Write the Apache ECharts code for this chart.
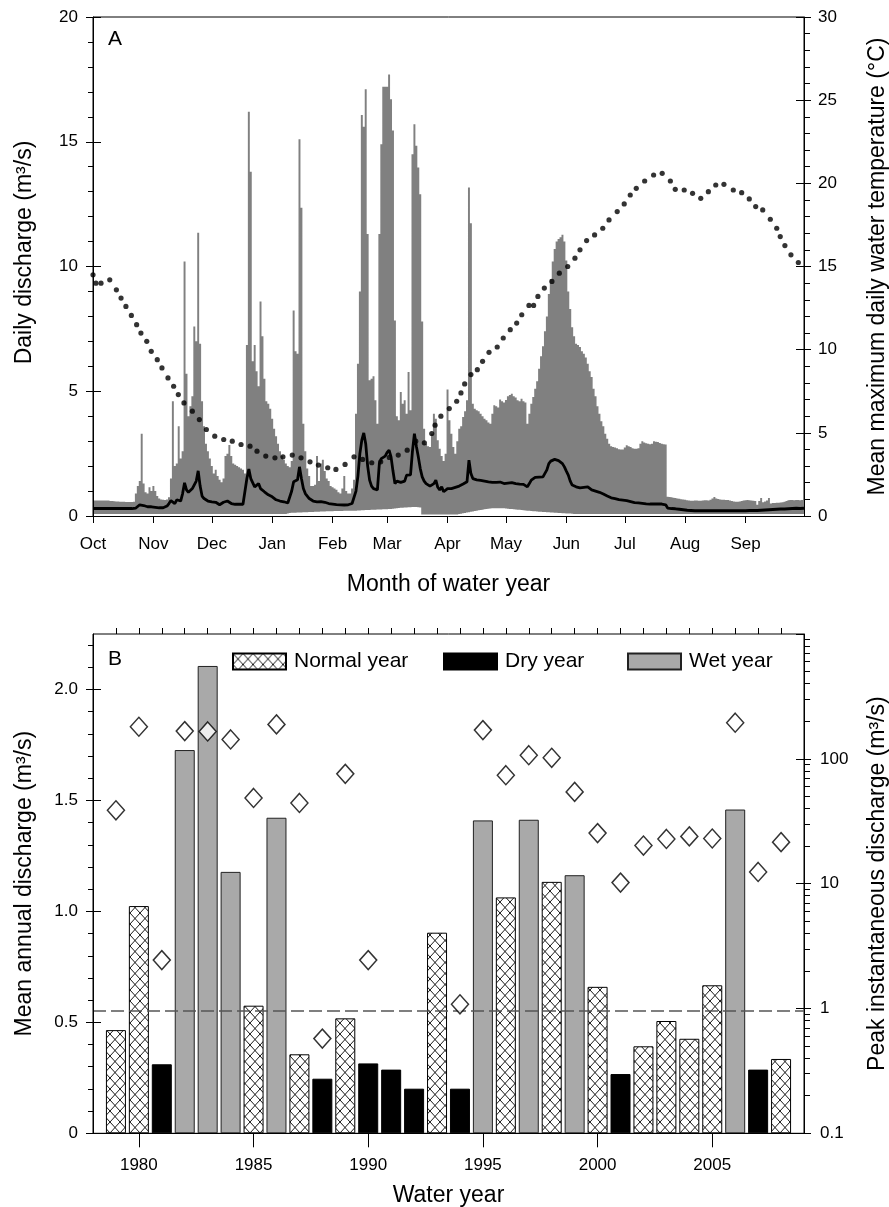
<!DOCTYPE html>
<html><head><meta charset="utf-8">
<script src="https://cdn.jsdelivr.net/npm/echarts@6/dist/echarts.min.js"></script>
<style>html,body{margin:0;padding:0;background:#fff}#c{width:889px;height:1207px}</style>
</head><body><div id="c"></div>
<script>
// ---------- Panel A data ----------
const monthNames = ['Oct','Nov','Dec','Jan','Feb','Mar','Apr','May','Jun','Jul','Aug','Sep'];
const monthStartDays = [0,31,61,92,123,151,182,212,243,273,304,335];
// daily maximum discharge (m3/s), day 0 = 1 Oct
const maxQ = [
0.62,0.62,0.62,0.62,0.62,0.62,0.62,0.62,0.62,0.6,
0.6,0.59,0.58,0.58,0.57,0.57,0.57,0.56,0.56,0.56,
0.56,0.57,0.9,1.2,1.4,3.3,1.3,0.95,0.9,1.15,
1.0,1.2,1.0,0.8,0.7,0.66,0.65,0.64,0.66,0.75,
1.5,4.6,2.0,2.1,3.6,2.3,2.6,10.2,5.7,4.0,
4.4,4.8,7.6,7.0,11.35,6.9,4.6,3.6,2.9,2.6,
2.3,2.0,1.7,1.85,1.6,1.45,1.35,1.5,2.4,2.5,
2.85,2.4,2.1,2.05,2.0,1.95,1.9,1.85,1.7,6.85,
16.2,13.8,6.2,6.85,5.8,5.2,8.6,7.2,5.5,4.6,
4.5,4.3,3.9,3.5,3.2,2.9,2.6,2.4,2.25,2.1,
2.0,1.95,2.2,8.24,6.6,6.5,15.1,12.35,3.7,2.6,
1.9,1.6,1.2,1.2,1.25,2.4,1.4,2.1,2.25,1.8,
1.5,1.4,1.2,1.15,1.1,1.05,0.95,0.9,1.1,1.6,
1.0,0.9,0.9,1.1,1.45,4.1,6.1,9.0,16.07,15.6,
17.1,11.3,5.44,5.5,5.6,4.64,3.7,11.3,14.9,17.2,
17.2,17.2,17.7,16.7,15.45,7.84,4.0,3.84,4.97,4.5,
4.64,4.1,5.77,4.24,14.5,15.7,14.84,13.97,12.9,7.8,
3.5,2.9,2.8,2.77,3.3,4.1,3.9,3.04,2.7,2.4,
2.2,2.5,5.07,3.84,3.3,2.77,2.5,3.0,3.5,3.6,
3.97,4.2,4.64,13.17,11.73,4.5,4.3,4.24,4.2,4.1,
4.0,3.9,3.84,3.75,3.7,4.1,4.44,4.4,4.35,4.67,
4.6,4.55,4.65,4.8,4.85,4.9,4.8,4.75,4.64,4.6,
4.7,4.6,4.55,3.7,4.1,4.5,4.77,5.1,5.4,5.9,
6.4,6.8,7.4,8.0,8.9,9.5,10.2,10.7,11.0,11.1,
11.17,11.27,11.0,10.24,9.0,8.3,7.57,7.2,6.9,6.85,
6.77,6.6,6.5,6.35,6.1,5.8,5.57,5.1,4.8,4.4,
4.1,3.8,3.6,3.3,3.1,2.9,2.8,2.77,2.75,2.72,
2.68,2.67,2.67,2.75,2.84,2.8,2.77,2.72,2.7,2.7,
2.72,2.9,3.0,2.95,2.92,2.9,2.88,2.9,3.0,2.98,
2.97,2.93,2.9,2.88,2.87,0.77,0.76,0.75,0.73,0.72,
0.7,0.69,0.67,0.66,0.65,0.63,0.62,0.61,0.61,0.62,
0.62,0.61,0.61,0.62,0.63,0.63,0.62,0.65,0.7,0.76,
0.7,0.68,0.66,0.65,0.65,0.64,0.64,0.62,0.6,0.58,
0.57,0.57,0.58,0.6,0.62,0.63,0.64,0.63,0.62,0.61,
0.6,0.45,0.6,0.72,0.55,0.58,0.62,0.72,0.5,0.52,
0.52,0.53,0.53,0.54,0.55,0.57,0.6,0.63,0.64,0.64,
0.63,0.64,0.64,0.63,0.64,0.64];
// daily minimum discharge (m3/s)
const minQ = [
0.08,0.08,0.08,0.08,0.08,0.08,0.08,0.08,0.08,0.08,
0.08,0.08,0.08,0.08,0.08,0.08,0.08,0.08,0.08,0.08,
0.08,0.08,0.08,0.08,0.08,0.08,0.08,0.08,0.08,0.08,
0.08,0.08,0.08,0.08,0.08,0.08,0.08,0.08,0.08,0.08,
0.08,0.08,0.08,0.08,0.08,0.08,0.08,0.08,0.08,0.08,
0.08,0.08,0.08,0.08,0.08,0.08,0.08,0.08,0.08,0.08,
0.08,0.08,0.08,0.08,0.08,0.08,0.08,0.08,0.08,0.08,
0.08,0.08,0.08,0.08,0.08,0.08,0.08,0.08,0.08,0.08,
0.08,0.08,0.08,0.08,0.08,0.08,0.08,0.08,0.08,0.08,
0.08,0.08,0.08,0.08,0.08,0.08,0.08,0.08,0.08,0.08,
0.1,0.12,0.13,0.13,0.13,0.14,0.14,0.14,0.15,0.15,
0.15,0.16,0.16,0.16,0.17,0.17,0.17,0.18,0.18,0.18,
0.19,0.19,0.19,0.19,0.2,0.2,0.2,0.2,0.2,0.21,
0.21,0.21,0.21,0.21,0.21,0.21,0.22,0.22,0.23,0.23,
0.24,0.24,0.24,0.25,0.25,0.25,0.26,0.26,0.26,0.27,
0.27,0.27,0.28,0.28,0.29,0.3,0.31,0.32,0.33,0.33,
0.34,0.34,0.35,0.35,0.36,0.36,0.36,0.35,0.34,0.06,
0.06,0.06,0.06,0.06,0.06,0.06,0.06,0.06,0.06,0.06,
0.06,0.06,0.06,0.06,0.06,0.06,0.06,0.06,0.08,0.09,
0.11,0.12,0.14,0.15,0.17,0.18,0.2,0.21,0.23,0.24,
0.25,0.27,0.28,0.29,0.3,0.31,0.31,0.31,0.31,0.31,
0.31,0.31,0.3,0.29,0.28,0.28,0.27,0.26,0.25,0.25,
0.24,0.23,0.22,0.21,0.21,0.2,0.19,0.19,0.18,0.17,
0.17,0.16,0.16,0.15,0.15,0.14,0.14,0.13,0.13,0.12,
0.12,0.11,0.11,0.1,0.1,0.1,0.09,0.08,0.08,0.08,
0.08,0.08,0.08,0.08,0.08,0.08,0.08,0.08,0.08,0.08,
0.08,0.08,0.08,0.08,0.08,0.08,0.08,0.08,0.08,0.08,
0.08,0.08,0.08,0.08,0.08,0.08,0.08,0.08,0.08,0.08,
0.08,0.08,0.08,0.08,0.08,0.08,0.08,0.08,0.08,0.08,
0.08,0.08,0.08,0.08,0.08,0.08,0.08,0.08,0.08,0.08,
0.08,0.08,0.08,0.08,0.08,0.08,0.08,0.08,0.08,0.08,
0.08,0.08,0.08,0.08,0.08,0.08,0.08,0.08,0.08,0.08,
0.08,0.08,0.08,0.08,0.08,0.08,0.08,0.08,0.08,0.08,
0.08,0.08,0.08,0.08,0.08,0.08,0.08,0.08,0.08,0.08,
0.08,0.08,0.08,0.08,0.08,0.08,0.08,0.08,0.08,0.08,
0.08,0.08,0.08,0.08,0.08,0.08,0.08,0.08,0.08,0.08,
0.08,0.08,0.08,0.08,0.08,0.08];
// daily median discharge (m3/s)
const medQ = [
0.3,0.3,0.3,0.3,0.3,0.3,0.3,0.3,0.3,0.3,
0.3,0.3,0.3,0.3,0.3,0.3,0.3,0.3,0.3,0.3,
0.3,0.3,0.32,0.38,0.45,0.53,0.42,0.37,0.37,0.38,
0.37,0.36,0.35,0.34,0.33,0.33,0.33,0.35,0.4,0.5,
0.62,0.6,0.5,0.65,0.62,0.6,0.9,1.33,1.05,0.95,
0.9,1.1,1.15,1.4,1.81,1.2,0.8,0.7,0.64,0.6,
0.58,0.57,0.57,0.55,0.5,0.45,0.47,0.55,0.58,0.6,
0.52,0.5,0.48,0.47,0.47,0.47,0.47,0.47,0.5,1.5,
1.88,1.5,1.44,1.17,1.2,1.3,1.1,1.04,0.97,0.9,
0.85,0.8,0.77,0.7,0.65,0.62,0.6,0.58,0.57,0.55,
0.52,0.5,1.0,1.37,1.3,1.45,1.97,1.5,1.1,0.9,
0.8,0.7,0.64,0.6,0.57,0.57,0.6,0.58,0.57,0.55,
0.52,0.5,0.5,0.48,0.47,0.46,0.45,0.45,0.44,0.44,
0.44,0.45,0.47,0.5,0.5,1.0,1.6,2.5,3.04,3.33,
2.9,2.0,1.44,1.2,1.1,1.04,1.05,2.1,2.3,2.37,
2.4,2.55,2.64,2.37,1.8,1.3,1.4,1.45,1.35,1.3,
1.4,1.64,1.6,1.65,2.6,3.3,2.8,2.37,1.9,1.57,
1.4,1.3,1.24,1.2,1.17,1.3,1.44,1.15,1.04,1.17,
0.97,1.05,1.1,1.08,1.1,1.12,1.15,1.18,1.2,1.24,
1.28,1.32,1.37,2.24,1.7,1.5,1.47,1.45,1.44,1.43,
1.42,1.4,1.38,1.37,1.36,1.35,1.3,1.35,1.32,1.36,
1.33,1.3,1.35,1.32,1.3,1.34,1.31,1.3,1.33,1.28,
1.3,1.27,1.22,1.17,1.3,1.44,1.5,1.55,1.55,1.56,
1.57,1.57,1.6,1.85,2.1,2.2,2.25,2.27,2.26,2.22,
2.18,2.1,1.97,1.8,1.64,1.4,1.24,1.2,1.17,1.15,
1.13,1.12,1.15,1.2,1.17,1.1,1.05,1.04,1.0,0.97,
0.95,0.92,0.88,0.84,0.8,0.76,0.73,0.7,0.7,0.68,
0.66,0.65,0.64,0.63,0.62,0.6,0.58,0.56,0.54,0.53,
0.53,0.52,0.51,0.5,0.49,0.48,0.48,0.48,0.48,0.48,
0.48,0.48,0.48,0.47,0.45,0.32,0.31,0.3,0.3,0.29,
0.28,0.27,0.26,0.25,0.24,0.23,0.22,0.22,0.21,0.21,
0.21,0.21,0.21,0.21,0.21,0.21,0.21,0.21,0.21,0.21,
0.21,0.21,0.21,0.21,0.21,0.21,0.21,0.21,0.21,0.21,
0.21,0.21,0.21,0.21,0.21,0.21,0.21,0.22,0.22,0.22,
0.22,0.22,0.22,0.23,0.23,0.24,0.24,0.25,0.25,0.26,
0.26,0.27,0.27,0.28,0.28,0.28,0.29,0.29,0.3,0.3,
0.3,0.31,0.31,0.3,0.31,0.31];
// mean maximum daily water temperature (deg C)
const tempDay = [0,1.5,4.1,8.6,12,14.4,16.9,19.7,22.4,24.6,27.6,29.9,33,35.4,38.5,41.4,43.8,46.7,51,54.6,58.2,62.5,67.1,71.5,76,80.6,84.2,88.7,93.4,97.5,102.3,106.8,111.4,115.7,120.5,124.7,129.4,134,138.4,143.1,147.7,152.1,156.7,161.3,165.7,170.1,173.9,175.6,178.6,182.9,186.7,188.9,190.8,194,197.3,200,203.3,207.5,210.6,214.2,217.5,220.1,223.8,226.2,228.4,231.7,235.6,239.4,243.7,247.4,250,253.4,257.5,261.7,264.9,269.1,272.7,275.8,278.9,283.2,287.8,292.2,296.4,298.9,303.5,307.8,312,315.9,319.7,323.9,328.7,333,336.9,340.2,343.8,347.7,351,352.8,355.2,358.3,362.1];
const tempC = [14.5,14.0,14.0,14.2,13.6,13.1,12.6,12.06,11.5,11.0,10.5,9.9,9.4,8.9,8.3,7.8,7.3,6.8,6.3,5.8,5.2,4.8,4.6,4.5,4.3,4.2,3.9,3.6,3.5,3.56,3.66,3.5,3.26,3.06,2.9,2.8,3.1,3.56,3.4,3.2,3.26,3.52,3.66,3.96,4.5,4.4,4.96,5.46,6.0,6.46,6.9,7.4,7.94,8.5,8.8,9.3,9.84,10.16,10.7,11.2,11.6,12.1,12.66,12.66,13.2,13.7,14.1,14.6,15.0,15.5,16.0,16.56,16.9,17.3,17.8,18.3,18.76,19.3,19.7,20.14,20.5,20.6,20.14,19.64,19.6,19.4,19.1,19.5,19.9,19.94,19.6,19.44,19.06,18.6,18.4,17.84,17.3,16.8,16.26,15.7,15.24];

// ---------- Panel B data ----------
const years = [1979,1980,1981,1982,1983,1984,1985,1986,1987,1988,1989,1990,1991,1992,1993,1994,1995,1996,1997,1998,1999,2000,2001,2002,2003,2004,2005,2006,2007,2008];
const yearType = ['N','N','D','W','W','W','N','W','N','D','N','D','D','D','N','D','W','N','W','N','W','N','D','N','N','N','N','W','D','N'];
const annualQ = [0.465,1.024,0.311,1.727,2.106,1.178,0.575,1.422,0.356,0.246,0.518,0.315,0.287,0.201,0.904,0.201,1.41,1.063,1.413,1.133,1.163,0.66,0.267,0.392,0.506,0.426,0.667,1.459,0.287,0.335];
const peakYears = [1979,1980,1981,1982,1983,1984,1985,1986,1987,1988,1989,1990,1994,1995,1996,1997,1998,1999,2000,2001,2002,2003,2004,2005,2006,2007,2008];
const peakQ = [38.7,180.7,2.44,166.7,165.6,142.9,48.6,188.6,44.3,0.574,75.8,2.44,1.08,169.8,73.9,106.9,101.9,54.3,25.4,10.2,20.2,22.8,23.9,23.0,194.6,12.4,21.5];
const meanAnnualQ = 0.554;
const typeNames = {N:'Normal year', D:'Dry year', W:'Wet year'};
const yearTickLabels = [1980,1985,1990,1995,2000,2005];
const leftBTicks = [0,0.5,1.0,1.5,2.0];
const leftBMinorTicks = [0.1,0.2,0.3,0.4,0.6,0.7,0.8,0.9,1.1,1.2,1.3,1.4,1.6,1.7,1.8,1.9,2.1,2.2];
const logMinorTicks = [0.2,0.3,0.4,0.5,0.6,0.7,0.8,0.9,2,3,4,5,6,7,8,9,20,30,40,50,60,70,80,90,200,300,400,500,600,700,800,900];

// ---------- build ----------
const FONT = 'Liberation Sans, Arial, Helvetica, sans-serif';
const pc = document.createElement('canvas'); pc.width = 10; pc.height = 11;
const g = pc.getContext('2d');
g.fillStyle = '#fff'; g.fillRect(0, 0, 10, 11);
g.strokeStyle = '#000'; g.lineWidth = 0.9;
g.beginPath(); g.moveTo(-1, -1.1); g.lineTo(11, 12.1); g.moveTo(11, -1.1); g.lineTo(-1, 12.1); g.stroke();
const hatch = {image: pc, repeat: 'repeat'};

const byType = t => years.map((y, i) => yearType[i] === t ? [y, annualQ[i]] : null).filter(Boolean);
const blk = {color: '#000', width: 1};
const noSplit = {show: false};
const tickLbl = {color: '#000', fontSize: 17, fontFamily: FONT};
const nameStyle = {color: '#000', fontSize: 23, fontFamily: FONT};

// one seamless stepped polygon: each day is a full-width column, placed through the axis scales
const dailyColumns = (vals, fill) => (params, api) => {
  if (params.dataIndex !== 0) return null;
  const pts = [];
  for (let i = 0; i < vals.length; i++) {
    pts.push(api.coord([i - 0.5, vals[i]]), api.coord([i + 0.5, vals[i]]));
  }
  pts.push(api.coord([vals.length - 0.5, 0]), api.coord([-0.5, 0]));
  return {type: 'polygon', shape: {points: pts}, style: {fill: fill}};
};

const chart = echarts.init(document.getElementById('c'));
chart.setOption({
  animation: false,
  backgroundColor: '#fff',
  textStyle: {fontFamily: FONT, color: '#000'},
  title: [
    {text: 'A', left: 108, top: 29, padding: 0, textStyle: {fontSize: 21, fontWeight: 'normal', color: '#000', fontFamily: FONT}},
    {text: 'B', left: 108, top: 649, padding: 0, textStyle: {fontSize: 21, fontWeight: 'normal', color: '#000', fontFamily: FONT}}
  ],
  legend: [
    {data: ['Normal year'], left: 232, top: 651},
    {data: ['Dry year'], left: 443, top: 651},
    {data: ['Wet year'], left: 627, top: 651}
  ].map(l => Object.assign(l, {itemWidth: 53, itemHeight: 16, icon: 'rect', selectedMode: false, padding: 0, itemGap: 0,
      textStyle: {fontSize: 21, color: '#000', fontFamily: FONT, padding: [0, 0, 0, 3]}})),
  grid: [
    {left: 93, top: 17, width: 711, height: 499, show: true, borderColor: '#000', borderWidth: 1, containLabel: false, outerBoundsMode: 'none'},
    {left: 93, top: 634, width: 711, height: 499.3, show: true, borderColor: '#000', borderWidth: 1, containLabel: false, outerBoundsMode: 'none'}
  ],
  xAxis: [
    {gridIndex: 0, type: 'value', min: 0, max: 365, z: 10,
     axisLine: {onZero: false, lineStyle: blk},
     axisTick: {customValues: monthStartDays, length: 7, lineStyle: blk},
     axisLabel: Object.assign({customValues: monthStartDays, margin: 20, formatter: v => monthNames[monthStartDays.indexOf(v)]}, tickLbl),
     splitLine: noSplit,
     name: 'Month of water year', nameLocation: 'middle', nameGap: 57, nameTextStyle: nameStyle},
    {gridIndex: 1, type: 'value', min: 1978, max: 2009, z: 10,
     axisLine: {onZero: false, lineStyle: blk},
     axisTick: {customValues: yearTickLabels, length: 14, lineStyle: blk},
     axisLabel: Object.assign({customValues: yearTickLabels, margin: 24, formatter: v => String(v)}, tickLbl),
     splitLine: noSplit,
     name: 'Water year', nameLocation: 'middle', nameGap: 51, nameTextStyle: nameStyle},
    {gridIndex: 1, type: 'value', min: 1978, max: 2009, z: 10,
     axisLine: {show: false, onZero: false},
     axisTick: {customValues: years, length: 6, lineStyle: blk},
     axisLabel: {show: false}, splitLine: noSplit}
  ],
  yAxis: [
    {gridIndex: 0, type: 'value', min: 0, max: 20, interval: 5, position: 'left', z: 10,
     axisLine: {show: true, lineStyle: blk}, axisTick: {length: 7, lineStyle: blk},
     minorTick: {show: true, splitNumber: 5, length: 5, lineStyle: blk},
     axisLabel: Object.assign({margin: 15}, tickLbl), splitLine: noSplit, minorSplitLine: noSplit,
     name: 'Daily discharge (m³/s)', nameLocation: 'middle', nameGap: 57, nameRotate: 90,
     nameTextStyle: Object.assign({padding: [0, 0, 0, 28]}, nameStyle)},
    {gridIndex: 0, type: 'value', min: 0, max: 20, interval: 5, position: 'left', z: 10,
     axisLine: {show: false}, axisTick: {inside: true, length: 8, lineStyle: blk},
     axisLabel: {show: false}, splitLine: noSplit},
    {gridIndex: 0, type: 'value', min: 0, max: 30, interval: 5, position: 'right', z: 10,
     axisLine: {show: true, lineStyle: blk}, axisTick: {length: 7, lineStyle: blk},
     minorTick: {show: true, splitNumber: 5, length: 6, lineStyle: blk},
     axisLabel: Object.assign({margin: 14}, tickLbl), splitLine: noSplit, minorSplitLine: noSplit,
     name: 'Mean maximum daily water temperature (°C)', nameLocation: 'middle', nameGap: 62, nameRotate: 90,
     nameTextStyle: nameStyle},
    {gridIndex: 0, type: 'value', min: 0, max: 30, interval: 5, position: 'right', z: 10,
     axisLine: {show: false}, axisTick: {inside: true, length: 8, lineStyle: blk},
     axisLabel: {show: false}, splitLine: noSplit},
    {gridIndex: 1, type: 'value', min: 0, max: 2.25, position: 'left', z: 10,
     axisLine: {show: true, lineStyle: blk},
     axisTick: {customValues: leftBTicks, length: 7, lineStyle: blk},
     axisLabel: Object.assign({customValues: leftBTicks, margin: 15, formatter: v => v === 0 ? '0' : v.toFixed(1)}, tickLbl),
     splitLine: noSplit,
     name: 'Mean annual discharge (m³/s)', nameLocation: 'middle', nameGap: 57, nameRotate: 90, nameTextStyle: nameStyle},
    {gridIndex: 1, type: 'value', min: 0, max: 2.25, position: 'left', z: 10,
     axisLine: {show: false}, axisTick: {customValues: leftBTicks, inside: true, length: 8, lineStyle: blk},
     axisLabel: {show: false}, splitLine: noSplit},
    {gridIndex: 1, type: 'value', min: 0, max: 2.25, position: 'left', z: 10,
     axisLine: {show: false}, axisTick: {customValues: leftBMinorTicks, length: 5, lineStyle: blk},
     axisLabel: {show: false}, splitLine: noSplit},
    {gridIndex: 1, type: 'log', logBase: 10, min: 0.1, max: 1000, position: 'right', z: 10,
     axisLine: {show: true, lineStyle: blk}, axisTick: {length: 7, lineStyle: blk},
     axisLabel: Object.assign({margin: 16, showMaxLabel: false, showMinLabel: true}, tickLbl),
     splitLine: noSplit,
     name: 'Peak instantaneous discharge (m³/s)', nameLocation: 'middle', nameGap: 62, nameRotate: 90, nameTextStyle: nameStyle},
    {gridIndex: 1, type: 'log', logBase: 10, min: 0.1, max: 1000, position: 'right', z: 10,
     axisLine: {show: false}, axisTick: {inside: true, length: 8, lineStyle: blk},
     axisLabel: {show: false}, splitLine: noSplit},
    {gridIndex: 1, type: 'value', min: -1, max: 3, position: 'right', z: 10,
     axisLine: {show: false}, axisTick: {customValues: logMinorTicks.map(Math.log10), length: 6, lineStyle: blk},
     axisLabel: {show: false}, splitLine: noSplit}
  ],
  series: [
    {type: 'custom', name: 'max', xAxisIndex: 0, yAxisIndex: 0, data: maxQ.map((v, i) => [i, v]),
     renderItem: dailyColumns(maxQ, '#808080'), clip: true, z: 1, silent: true},
    {type: 'custom', name: 'min', xAxisIndex: 0, yAxisIndex: 0, data: minQ.map((v, i) => [i, v]),
     renderItem: dailyColumns(minQ, '#ffffff'), clip: true, z: 2, silent: true},
    {type: 'line', name: 'median', xAxisIndex: 0, yAxisIndex: 0, data: medQ.map((v, i) => [i, v]),
     symbol: 'none', lineStyle: {width: 2.8, color: '#000'}, z: 3, silent: true},
    {type: 'scatter', name: 'temp', xAxisIndex: 0, yAxisIndex: 2, data: tempDay.map((d, i) => [d, tempC[i]]),
     symbol: 'circle', symbolSize: 5.2, itemStyle: {color: '#000'}, z: 4, silent: true},
    {type: 'bar', name: typeNames.N, xAxisIndex: 1, yAxisIndex: 4, data: byType('N'), barWidth: 20, barGap: '-100%',
     itemStyle: {color: hatch, borderColor: '#000', borderWidth: 1}, z: 2, silent: true,
     markLine: {silent: true, symbol: ['none', 'none'], label: {show: false}, animation: false,
       lineStyle: {type: [13, 5], color: '#555', width: 1.5}, data: [{yAxis: meanAnnualQ}]}},
    {type: 'bar', name: typeNames.D, xAxisIndex: 1, yAxisIndex: 4, data: byType('D'), barWidth: 20, barGap: '-100%',
     itemStyle: {color: '#000', borderColor: '#000', borderWidth: 1}, z: 2, silent: true},
    {type: 'bar', name: typeNames.W, xAxisIndex: 1, yAxisIndex: 4, data: byType('W'), barWidth: 20, barGap: '-100%',
     itemStyle: {color: '#a9a9a9', borderColor: '#222', borderWidth: 1}, z: 2, silent: true},
    {type: 'scatter', name: 'peak', xAxisIndex: 1, yAxisIndex: 7, data: peakYears.map((y, i) => [y, peakQ[i]]),
     symbol: 'diamond', symbolSize: [17, 19], itemStyle: {color: '#fff', borderColor: '#000', borderWidth: 1.5}, z: 6, silent: true}
  ]
});
</script></body></html>
